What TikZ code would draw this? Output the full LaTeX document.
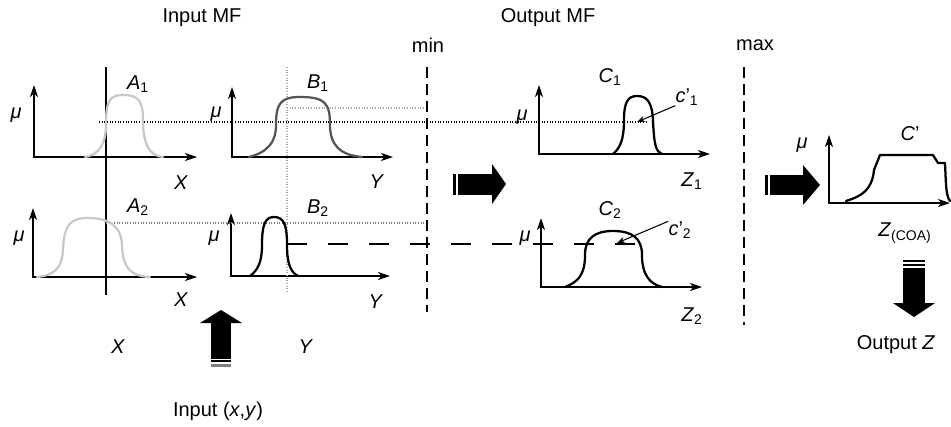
\documentclass[tikz,border=0pt]{standalone}
\usepackage{fontspec}
\setmainfont{Liberation Sans}
\usetikzlibrary{arrows.meta}
\definecolor{lightmf}{HTML}{C8C8C8}
\definecolor{darkmf}{HTML}{555555}
\definecolor{guide}{HTML}{AAAAAA}
\begin{document}
\begin{tikzpicture}[x=0.75pt,y=-0.75pt,
  axes/.style={line width=1pt,{Stealth[length=9pt,width=6pt,inset=2.5pt]}-{Stealth[length=9pt,width=6pt,inset=2.5pt]}},
  txt/.style={inner sep=0pt,font=\fontsize{15}{17}\selectfont},
  mfcurve/.style={line width=1.7pt,line cap=round},
  blk/.style={fill=black,draw=none},
  ptr/.style={line width=0.8pt,-{Stealth[length=6pt,width=4.5pt]}},
  vdash/.style={line width=1pt,dash pattern=on 8.25pt off 4.5pt},
  hdash/.style={line width=1pt,dash pattern=on 15pt off 15.75pt},
  dotline/.style={line width=0.8pt,dash pattern=on 0.8pt off 1.2pt}]
\useasboundingbox (0,0) rectangle (951,426);

% ---------- axes ----------
\coordinate (a1o) at (34,157);  \coordinate (a1y) at (34,85);  \coordinate (a1x) at (197,157);
\coordinate (b1o) at (232,157); \coordinate (b1y) at (232,87); \coordinate (b1x) at (393,157);
\coordinate (c1o) at (539,154); \coordinate (c1y) at (539,85); \coordinate (c1x) at (710,154);
\coordinate (a2o) at (33,277);  \coordinate (a2y) at (33,208); \coordinate (a2x) at (197,277);
\coordinate (b2o) at (231,276); \coordinate (b2y) at (231,213);\coordinate (b2x) at (390,276);
\coordinate (c2o) at (541,287); \coordinate (c2y) at (541,218);\coordinate (c2x) at (702,287);
\coordinate (coo) at (829,203); \coordinate (coy) at (829,135);\coordinate (cox) at (950,203);
\foreach \p in {a1,b1,c1,a2,b2,c2,co}{\draw[axes] (\p y) -- (\p o) -- (\p x);}

% ---------- guide lines ----------
\coordinate (xin1) at (106,67);  \coordinate (xin2) at (106,295);
\draw[line width=1pt] (xin1) -- (xin2);
\coordinate (yin1) at (287,67);  \coordinate (yin2) at (287,293);
\draw[guide,dotline] (yin1) -- (yin2);
\coordinate (b1h1) at (287,108); \coordinate (b1h2) at (427,108);
\draw[guide,dotline] (b1h1) -- (b1h2);
\coordinate (r1a) at (99,122);   \coordinate (r1b) at (648,122);
\draw[dotline] (r1a) -- (r1b);
\coordinate (a2h1) at (106,223); \coordinate (a2h2) at (427,223);
\draw[gray,dotline] (a2h1) -- (a2h2);
\coordinate (r2a) at (287,244);  \coordinate (r2b) at (645,244);
\draw[hdash] (r2a) -- (r2b);
\coordinate (min1) at (427,67);  \coordinate (min2) at (427,312);
\draw[vdash] (min1) -- (min2);
\coordinate (max1) at (744,67);  \coordinate (max2) at (744,325);
\draw[vdash] (max1) -- (max2);

% ---------- membership functions ----------
\draw[mfcurve,lightmf] (85,157) .. controls (98,155) and (106,145) .. (106,125)
  .. controls (106,100) and (110,95) .. (123,95)
  .. controls (138,95) and (143,100) .. (143,120)
  .. controls (143,145) and (150,156) .. (163,157);
\draw[mfcurve,darkmf] (249,157) .. controls (268,152) and (276,142) .. (276,125)
  .. controls (276,103) and (281,97) .. (300,97)
  .. controls (325,97) and (330,103) .. (330,125)
  .. controls (330,145) and (340,155) .. (362,157);
\draw[mfcurve] (613,154) .. controls (620,148) and (624,140) .. (624,120)
  .. controls (624,102) and (628,96) .. (637,96)
  .. controls (647,96) and (652,102) .. (653,120)
  .. controls (654,145) and (656,152) .. (662,154);
\draw[mfcurve,lightmf] (37,277) .. controls (55,275) and (62,268) .. (63,250)
  .. controls (64,225) and (70,218) .. (88,218)
  .. controls (108,218) and (121,225) .. (122,245)
  .. controls (123,268) and (130,276) .. (150,277);
\draw[mfcurve] (250,276) .. controls (258,270) and (262,262) .. (262,245)
  .. controls (262,225) and (265,217) .. (274,217)
  .. controls (284,217) and (287,225) .. (287,245)
  .. controls (287,262) and (290,272) .. (298,276);
\draw[mfcurve] (565,287) .. controls (578,282) and (585,275) .. (585,255)
  .. controls (585,238) and (595,231) .. (613,231)
  .. controls (632,231) and (642,238) .. (642,255)
  .. controls (642,275) and (650,284) .. (662,287);
\draw[mfcurve,line join=round] (846,201) .. controls (862,196) and (872,190) .. (874,170)
  -- (880,155) -- (933,155) -- (938,163) -- (945,163)
  .. controls (946,185) and (946,196) .. (950,201);

% ---------- block arrows ----------
\fill[blk] (453,173.5) rectangle (456,194.5);
\fill[blk] (458,173.5) rectangle (492,194.5);
\fill[blk] (492,164) -- (506,184) -- (492,204) -- cycle;
\fill[blk] (765,175) rectangle (768,195);
\fill[blk] (770,175) rectangle (803,195);
\fill[blk] (803,165) -- (820,185) -- (803,205) -- cycle;
\fill[blk] (200,323) -- (221,310) -- (242,323) -- cycle;
\fill[blk] (211,323) rectangle (231,358.5);
\fill[blk] (211,360) rectangle (231,362);
\fill[gray] (211,364) rectangle (231,366.5);
\fill[blk] (903,260) rectangle (925,262);
\fill[blk] (903,264) rectangle (925,266);
\fill[blk] (903,267.5) rectangle (925,303);
\fill[blk] (893,303) -- (914,317) -- (935,303) -- cycle;

% ---------- labels ----------
\node[txt] (tinmf) at (202,18) {Input MF};
\node[txt] (tmin) at (428,45) {min};
\node[txt] (toutmf) at (548,18) {Output MF};
\node[txt] (tmax) at (755,45) {max};
\node[txt] (la1) at (138,84) {\textit{A}\textsubscript{1}};
\node[txt] (lb1) at (318,83) {\textit{B}\textsubscript{1}};
\node[txt] (lc1) at (610,77) {\textit{C}\textsubscript{1}};
\node[txt] (c1p) at (687,97) {\textit{c}’\textsubscript{1}};
\node[txt] (lcp) at (910,134) {\textit{C}’};
\node[txt] (mua1) at (16,115) {\textit{μ}};
\node[txt] (mub1) at (216,114) {\textit{μ}};
\node[txt] (muc1) at (522,117) {\textit{μ}};
\node[txt] (mua2) at (19,238) {\textit{μ}};
\node[txt] (mub2) at (214,238) {\textit{μ}};
\node[txt] (muc2) at (525,238) {\textit{μ}};
\node[txt] (muco) at (802,145) {\textit{μ}};
\node[txt] (xa1) at (181,183) {\textit{X}};
\node[txt] (yb1) at (377,182) {\textit{Y}};
\node[txt] (z1) at (692,181) {\textit{Z}\textsubscript{1}};
\node[txt] (la2) at (138,207) {\textit{A}\textsubscript{2}};
\node[txt] (lb2) at (318,208) {\textit{B}\textsubscript{2}};
\node[txt] (lc2) at (610,210) {\textit{C}\textsubscript{2}};
\node[txt] (c2p) at (680,230) {\textit{c}’\textsubscript{2}};
\node[txt] (xa2) at (181,300) {\textit{X}};
\node[txt] (yb2) at (376,302) {\textit{Y}};
\node[txt] (z2) at (692,316) {\textit{Z}\textsubscript{2}};
\node[txt] (zcoa) at (905,233) {\textit{Z}\textsubscript{(COA)}};
\node[txt] (outz) at (896,345) {Output \textit{Z}};
\node[txt] (xin) at (118,347) {\textit{X}};
\node[txt] (yin) at (306,347) {\textit{Y}};
\node[txt] (inxy) at (218,411) {Input (\textit{x},\textit{y})};

% ---------- pointers ----------
\coordinate (c1t) at (637,122);
\draw[ptr] (c1p.south west) -- (c1t);
\coordinate (c2t) at (617,243);
\draw[ptr] (c2p.north west) -- (c2t);
\end{tikzpicture}
\end{document}
